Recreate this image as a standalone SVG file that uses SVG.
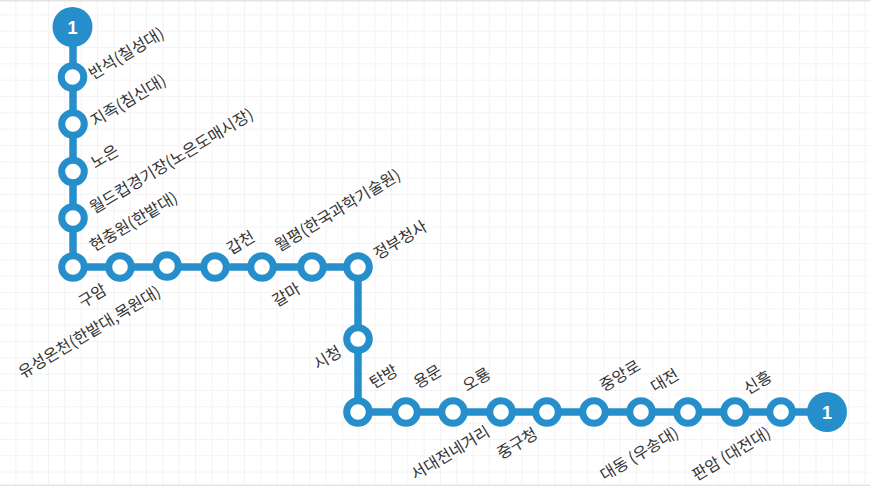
<svg xmlns="http://www.w3.org/2000/svg" width="870" height="486" viewBox="0 0 870 486">
<style>
.st{fill:#fff;stroke:#268fcb;stroke-width:7}
.end{fill:#268fcb}
.num{fill:#fff;font:bold 18px "Liberation Sans","Noto Sans",sans-serif;text-anchor:middle}
.l{fill:#333;font:16px "Noto Sans CJK KR",sans-serif}
.e{text-anchor:end}
.line{fill:none;stroke:#268fcb;stroke-width:7.5}
</style>
<defs>
<pattern id="g" width="16.33" height="16.33" patternUnits="userSpaceOnUse" x="0" y="-1">
<path d="M16.33 0V16.33M0 16.33H16.33" fill="none" stroke="#f3f3f3" stroke-width="2"/>
</pattern>
</defs>
<rect width="870" height="486" fill="#fff"/>
<rect width="870" height="486" fill="url(#g)"/>
<rect x="0" y="0" width="870" height="1.5" fill="#e4e4e4"/>
<rect x="0" y="484.5" width="870" height="1.5" fill="#e4e4e4"/>
<g id="connectors"><path class="line" d="M73 27V267H358V412H827"/></g>
<g id="n-start"><circle class="end" cx="72.500" cy="27" r="20"/><text class="num" x="72.500" y="33.500">1</text></g>
<g id="n1"><circle class="st" cx="72.500" cy="77" r="11.300"/><text class="l" transform="translate(93 80) rotate(-31)">반석(칠성대)</text></g>
<g id="n2"><circle class="st" cx="73" cy="124" r="11.300"/><text class="l" transform="translate(95 127) rotate(-31)">지족(침신대)</text></g>
<g id="n3"><circle class="st" cx="73" cy="171.500" r="11.300"/><text class="l" transform="translate(95 169) rotate(-31)">노은</text></g>
<g id="n4"><circle class="st" cx="73" cy="218" r="11.300"/><text class="l" transform="translate(94 214) rotate(-31)">월드컵경기장(노은도매시장)</text></g>
<g id="n5"><circle class="st" cx="73" cy="267" r="11.300"/><text class="l" transform="translate(94 252) rotate(-31)">현충원(한밭대)</text></g>
<g id="n6"><circle class="st" cx="120" cy="267" r="11.300"/><text class="l e" transform="translate(108 293) rotate(-31)">구암</text></g>
<g id="n7"><circle class="st" cx="167" cy="266" r="11.300"/><text class="l e" transform="translate(162 295) rotate(-31)">유성온천(한밭대,목원대)</text></g>
<g id="n8"><circle class="st" cx="215" cy="267" r="11.300"/><text class="l" transform="translate(231 255) rotate(-31)">갑천</text></g>
<g id="n9"><circle class="st" cx="262" cy="267" r="11.300"/><text class="l" transform="translate(279 252) rotate(-31)">월평(한국과학기술원)</text></g>
<g id="n10"><circle class="st" cx="312" cy="267" r="11.300"/><text class="l e" transform="translate(302 292) rotate(-31)">갈마</text></g>
<g id="n11"><circle class="st" cx="358" cy="267" r="11.300"/><text class="l" transform="translate(378 260) rotate(-31)">정부청사</text></g>
<g id="n12"><circle class="st" cx="358" cy="339" r="11.300"/><text class="l e" transform="translate(343 355) rotate(-31)">시청</text></g>
<g id="n13"><circle class="st" cx="358" cy="412" r="11.300"/><text class="l" transform="translate(374 389) rotate(-31)">탄방</text></g>
<g id="n14"><circle class="st" cx="406" cy="412" r="11.300"/><text class="l" transform="translate(418 389) rotate(-31)">용문</text></g>
<g id="n15"><circle class="st" cx="453" cy="412" r="11.300"/><text class="l" transform="translate(467 392) rotate(-31)">오룡</text></g>
<g id="n16"><circle class="st" cx="501" cy="412" r="11.300"/><text class="l e" transform="translate(491 435) rotate(-31)">서대전네거리</text></g>
<g id="n17"><circle class="st" cx="547" cy="412" r="11.300"/><text class="l e" transform="translate(539 437) rotate(-31)">중구청</text></g>
<g id="n18"><circle class="st" cx="594" cy="412" r="11.300"/><text class="l" transform="translate(604 392) rotate(-31)">중앙로</text></g>
<g id="n19"><circle class="st" cx="641" cy="412" r="11.300"/><text class="l" transform="translate(655 393) rotate(-31)">대전</text></g>
<g id="n20"><circle class="st" cx="688" cy="412" r="11.300"/><text class="l e" transform="translate(680 436) rotate(-31)">대동 (우송대)</text></g>
<g id="n21"><circle class="st" cx="735" cy="412" r="11.300"/><text class="l" transform="translate(748 395) rotate(-31)">신흥</text></g>
<g id="n22"><circle class="st" cx="781" cy="412" r="11.300"/><text class="l e" transform="translate(772 436) rotate(-31)">판암 (대전대)</text></g>
<g id="n-end"><circle class="end" cx="827" cy="412" r="20"/><text class="num" x="827" y="418.500">1</text></g>
</svg>
